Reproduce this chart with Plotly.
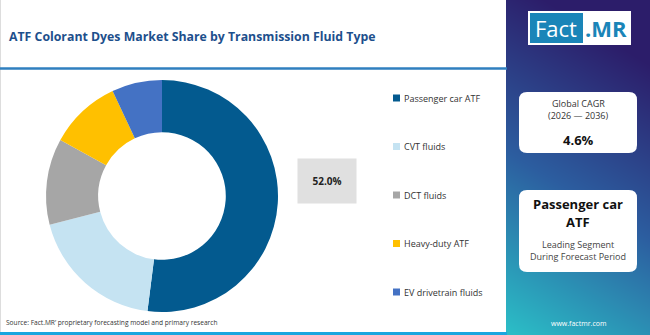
import base64, struct, zlib
import numpy as np
import plotly.graph_objects as go

# ---------------- data ----------------
categories = ["Passenger car ATF", "CVT fluids", "DCT fluids", "Heavy-duty ATF", "EV drivetrain fluids"]
shares = [52.0, 19.0, 12.0, 10.0, 7.0]
colors = ["#035a8f", "#c5e3f2", "#a6a6a6", "#ffc000", "#4472c4"]

title_text = "ATF Colorant Dyes Market Share by Transmission Fluid Type"
source_text = "Source: Fact.MR\u2019 proprietary forecasting model and primary research"
cagr_label = ["Global CAGR", "(2026 \u2014 2036)"]
cagr_value = "4.6%"
lead_segment = ["Passenger car", "ATF"]
lead_caption = ["Leading Segment", "During Forecast Period"]

W, H = 650, 335
FONT = "Open Sans"

# ---------------- gradient panel image ----------------
def png_data_uri(arr):
    h, w, _ = arr.shape
    raw = b"".join(b"\x00" + arr[r].astype(np.uint8).tobytes() for r in range(h))
    def chunk(tag, data):
        c = struct.pack(">I", len(data)) + tag + data
        return c + struct.pack(">I", zlib.crc32(tag + data) & 0xffffffff)
    png = b"\x89PNG\r\n\x1a\n" + chunk(b"IHDR", struct.pack(">IIBBBBB", w, h, 8, 2, 0, 0, 0))
    png += chunk(b"IDAT", zlib.compress(raw, 9)) + chunk(b"IEND", b"")
    return "data:image/png;base64," + base64.b64encode(png).decode()

pw, ph = 144, 335
yy, xx = np.mgrid[0:ph, 0:pw]
t = np.clip(0.95 * yy / ph + 0.25 * (1 - xx / pw) - 0.18, 0, 1)[..., None]
c0 = np.array([0x2c, 0x1d, 0x6a], float)
c1 = np.array([0x2d, 0x5e, 0xa0], float)
c2 = np.array([0x2b, 0xbc, 0xc6], float)
grad = np.where(t < 0.5, c0 + (c1 - c0) * (t / 0.5), c1 + (c2 - c1) * ((t - 0.5) / 0.5))
panel_uri = png_data_uri(grad)

# ---------------- figure ----------------
fig = go.Figure()

cx, cy, R = 162, 196, 116
fig.add_trace(go.Pie(
    labels=categories, values=shares, marker=dict(colors=colors, line=dict(width=0)),
    hole=0.55, sort=False, direction="clockwise", rotation=0,
    textinfo="none", hoverinfo="label+percent", showlegend=False,
    domain=dict(x=[(cx - R) / W, (cx + R) / W], y=[(H - cy - R) / H, (H - cy + R) / H]),
))

def rrect(x0, y0, x1, y1, r):
    return (f"M{x0+r},{y0} L{x1-r},{y0} Q{x1},{y0} {x1},{y0+r} L{x1},{y1-r} Q{x1},{y1} {x1-r},{y1} "
            f"L{x0+r},{y1} Q{x0},{y1} {x0},{y1-r} L{x0},{y0+r} Q{x0},{y0} {x0+r},{y0} Z")

shapes = [
    dict(type="line", x0=0.5, x1=0.5, y0=0, y1=H, line=dict(color="#dddddd", width=1)),
    dict(type="line", x0=0, x1=507, y0=68.5, y1=68.5, line=dict(color="#2f7fbf", width=2.5)),
    dict(type="rect", x0=0, x1=507, y0=332, y1=H, fillcolor="#19a6df", line=dict(width=0)),
    dict(type="path", path=rrect(519, 92, 637, 153, 8), fillcolor="white", line=dict(width=0)),
    dict(type="path", path=rrect(519, 190, 637, 272, 8), fillcolor="white", line=dict(width=0)),
    dict(type="rect", x0=528, x1=631, y0=11, y1=45, fillcolor="white", line=dict(width=0)),
    dict(type="rect", x0=530, x1=583, y0=13, y1=43, fillcolor="#1a85b8", line=dict(width=0)),
]

ann = []
def txt(x, y, s, size, color="#333333", bold=False, xanchor="center", family=FONT, **kw):
    ann.append(dict(x=x, y=y, xref="x", yref="y", text=(f"<b>{s}</b>" if bold else s),
                    showarrow=False, xanchor=xanchor, yanchor="middle",
                    font=dict(size=size, color=color, family=family), **kw))

txt(7, 36, title_text, 12.3, color="#1d4f8c", bold=True, xanchor="left")
txt(4, 322, source_text, 6.6, color="#333333", xanchor="left")

# value box for leading slice
txt(327, 181, f"{shares[0]:.1f}%", 10, color="#222222", bold=True,
    bgcolor="#e0e0e0", width=56, height=42)

# legend
for i, (cat, col) in enumerate(zip(categories, colors)):
    ly = 98 + i * 48.5
    shapes.append(dict(type="rect", x0=393, x1=400, y0=ly - 3.5, y1=ly + 3.5, fillcolor=col, line=dict(width=0)))
    txt(402, ly, cat, 9, color="#333333", xanchor="left")

# logo
txt(556, 28, "Fact", 22, color="white")
txt(606, 28, ".MR", 22, color="#1a85b8", bold=True)

# cards
txt(578, 103, cagr_label[0], 9, color="#333333")
txt(578, 115, cagr_label[1], 9, color="#333333")
txt(578, 140, cagr_value, 13, color="#111111", bold=True)
txt(578, 204, lead_segment[0], 13, color="#111111", bold=True)
txt(578, 222, lead_segment[1], 13, color="#111111", bold=True)
txt(578, 244, lead_caption[0], 9, color="#444444")
txt(578, 256, lead_caption[1], 9, color="#444444")
txt(578, 323, "www.factmr.com", 7, color="white")

fig.update_layout(
    width=W, height=H, margin=dict(l=0, r=0, t=0, b=0),
    paper_bgcolor="white", plot_bgcolor="rgba(0,0,0,0)",
    xaxis=dict(range=[0, W], visible=False, domain=[0, 1], fixedrange=True),
    yaxis=dict(range=[H, 0], visible=False, domain=[0, 1], fixedrange=True),
    shapes=shapes, annotations=ann,
    images=[dict(source=panel_uri, xref="x", yref="y", x=506, y=0, sizex=144, sizey=H,
                 sizing="stretch", layer="below", xanchor="left", yanchor="top")],
)
fig.write_html("out.html")
